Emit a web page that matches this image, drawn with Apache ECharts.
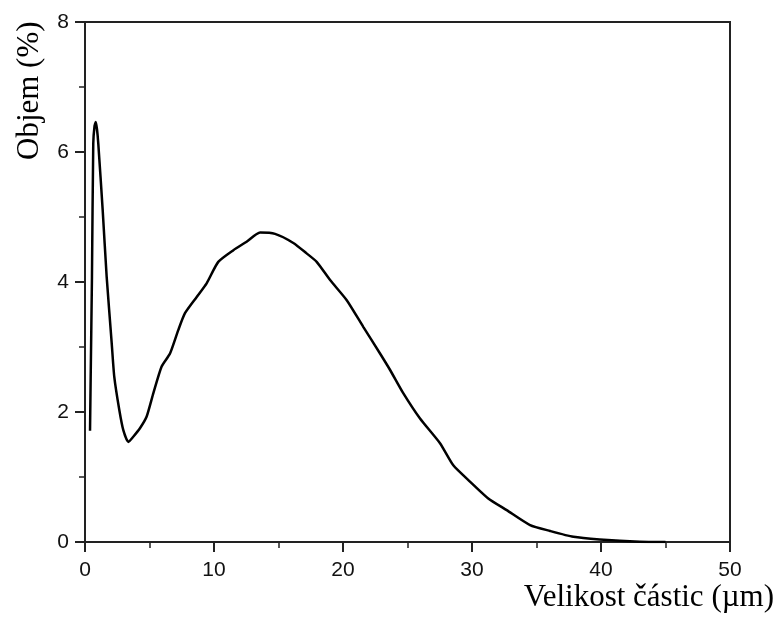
<!DOCTYPE html>
<html>
<head>
<meta charset="utf-8">
<script src="https://cdn.jsdelivr.net/npm/echarts@6/dist/echarts.min.js"></script>
<style>
  html, body { margin: 0; padding: 0; background: #fff; }
  #chart { width: 778px; height: 620px; }
</style>
</head>
<body>
<div id="chart"></div>
<script>
// velikost částic (µm) a objem (%)
const sizes = [0.39, 0.44, 0.54, 0.64, 0.74, 0.83, 0.93, 1.03, 1.37, 1.68, 2.07, 2.27, 2.66, 2.97,
  3.36, 3.74, 4.26, 4.78, 5.3, 5.94, 6.59, 7.23, 7.75, 8.66, 9.43, 10.33, 11.5, 12.53, 13.57,
  14.73, 16.15, 17.18, 17.96, 19.0, 20.29, 21.57, 22.87, 23.64, 24.67, 25.97, 27.52, 28.55,
  29.84, 31.26, 32.69, 34.5, 36.05, 37.86, 39.9, 43.0, 45.0];
const volumes = [1.71, 2.54, 4.08, 6.13, 6.4, 6.46, 6.35, 6.13, 5.11, 4.08, 3.06, 2.54, 2.03, 1.72,
  1.54, 1.62, 1.75, 1.93, 2.29, 2.7, 2.9, 3.26, 3.52, 3.77, 3.98, 4.31, 4.49, 4.62, 4.76,
  4.74, 4.6, 4.44, 4.31, 4.03, 3.72, 3.31, 2.9, 2.65, 2.29, 1.9, 1.52, 1.18,
  0.93, 0.67, 0.49, 0.26, 0.17, 0.08, 0.04, 0.005, 0];
const xTicks = [0, 10, 20, 30, 40, 50];
const yTicks = [0, 2, 4, 6, 8];

const points = sizes.map((s, i) => [s, volumes[i]]);

const chart = echarts.init(document.getElementById('chart'));

const axisCommon = {
  axisLine: { show: true, lineStyle: { color: '#222', width: 2 } },
  axisTick: { show: true, inside: false, length: 10, lineStyle: { color: '#222', width: 2 } },
  minorTick: { show: true, splitNumber: 2, length: 6, lineStyle: { color: '#222', width: 1.5 } },
  splitLine: { show: false },
  axisLabel: { color: '#111', fontFamily: 'Liberation Sans', fontSize: 21 }
};

chart.setOption({
  animation: false,
  grid: { left: 85, top: 22, right: 48, bottom: 78, show: true, borderColor: '#222', borderWidth: 2 },
  xAxis: Object.assign({}, axisCommon, {
    type: 'value',
    min: xTicks[0],
    max: xTicks[xTicks.length - 1],
    interval: 10,
    axisLabel: Object.assign({}, axisCommon.axisLabel, { margin: 18 })
  }),
  yAxis: Object.assign({}, axisCommon, {
    type: 'value',
    min: yTicks[0],
    max: yTicks[yTicks.length - 1],
    interval: 2,
    axisLabel: Object.assign({}, axisCommon.axisLabel, { margin: 16 })
  }),
  series: [{
    type: 'line',
    data: points,
    showSymbol: false,
    smooth: 0.2,
    lineStyle: { color: '#000', width: 2.5 }
  }],
  graphic: [
    {
      type: 'text',
      style: {
        text: 'Objem (%)',
        font: '31px "Liberation Serif"',
        fill: '#000'
      },
      rotation: Math.PI / 2,
      x: 14, y: 160
    },
    {
      type: 'text',
      right: 4,
      top: 582,
      style: {
        text: 'Velikost částic (µm)',
        font: '31px "Liberation Serif"',
        fill: '#000'
      }
    }
  ]
});
</script>
</body>
</html>
